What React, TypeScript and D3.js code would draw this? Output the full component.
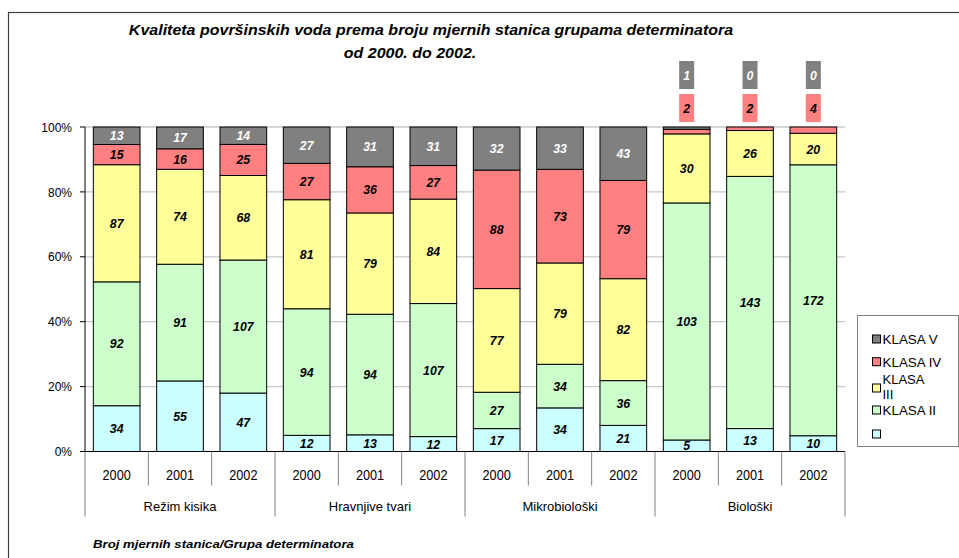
import React, { Component } from 'react';
import * as d3 from "d3";

// chart data
const groups = ["Režim kisika", "Hravnjive tvari", "Mikrobiološki", "Biološki"];
const years = ["2000", "2001", "2002"];
const classColors = ["#CCFFFF", "#CCFFCC", "#FFFF99", "#FF8080", "#808080"];

// counts per bar (group x year), order KLASA I .. KLASA V
const klasaI = [34, 55, 47, 12, 13, 12, 17, 34, 21, 5, 13, 10];
const klasaII = [92, 91, 107, 94, 94, 107, 27, 34, 36, 103, 143, 172];
const klasaIII = [87, 74, 68, 81, 79, 84, 77, 79, 82, 30, 26, 20];
const klasaIV = [15, 16, 25, 27, 36, 27, 88, 73, 79, 2, 2, 4];
const klasaV = [13, 17, 14, 27, 31, 31, 32, 33, 43, 1, 0, 0];
const yTicks = [0, 0.2, 0.4, 0.6, 0.8, 1];

const title1 = "Kvaliteta površinskih voda prema broju mjernih stanica grupama determinatora";
const title2 = "od 2000. do 2002.";
const axisTitle = "Broj mjernih stanica/Grupa determinatora";

// text placed with its own vertical stretch (the source rendering is not square)
function addText(g: any, x: number, y: number, str: any, fs: number, sy: number, anchor = "start") {
    return g.append("text")
        .attr("transform", "translate(" + x + "," + y + ") scale(1," + sy + ")")
        .attr("font-size", fs)
        .attr("text-anchor", anchor)
        .text(str);
}

export default class App extends Component {
    myRef: any;

    constructor(props: any) {
        super(props)
        this.myRef = React.createRef()
    }

    componentDidMount() {
        document.body.style.margin = "0";
        const el = this.myRef.current;
        el.innerHTML = "";

        const width = 959, height = 558
        const font = "Arial, 'Liberation Sans', sans-serif"
        const plot = { left: 85, right: 845, top: 127, bottom: 451.5 }

        const svg = d3.select(el)
            .append("svg")
            .attr("width", width)
            .attr("height", height)
            .style("display", "block")
            .style("font-family", font);

        svg.append("rect").attr("width", width).attr("height", height).attr("fill", "#fff");

        // outer chart frame
        svg.append("rect")
            .attr("x", 8.5).attr("y", 12.5)
            .attr("width", width + 20).attr("height", height + 20)
            .attr("fill", "none").attr("stroke", "#404040").attr("stroke-width", 1.2);

        const series = [klasaI, klasaII, klasaIII, klasaIV, klasaV];
        const cats: any[] = [];
        groups.forEach((g, gi) => years.forEach((yr, yi) => {
            const idx = gi * 3 + yi;
            const vals = series.map(s => s[idx]);
            cats.push({ key: g + "|" + yr, group: g, year: yr, vals, total: d3.sum(vals) });
        }));

        const x = d3.scaleBand()
            .domain(cats.map(d => d.key))
            .range([plot.left, plot.right])
            .paddingInner(0.263)
            .paddingOuter(0.1315)

        const step = x.step()

        const y = d3.scaleLinear()
            .domain([0, 1])
            .range([plot.bottom, plot.top])

        // grid
        svg.append("g").selectAll("line")
            .data(yTicks.slice(1))
            .join("line")
            .attr("x1", plot.left).attr("x2", plot.right)
            .attr("y1", d => y(d)).attr("y2", d => y(d))
            .attr("stroke", "#C8C8C8").attr("stroke-width", 1.3);

        // y axis
        svg.append("line")
            .attr("x1", plot.left).attr("x2", plot.left)
            .attr("y1", plot.top).attr("y2", plot.bottom)
            .attr("stroke", "#000");
        const yAx = svg.append("g");
        yAx.selectAll("line").data(yTicks).join("line")
            .attr("x1", plot.left - 5).attr("x2", plot.left)
            .attr("y1", d => y(d)).attr("y2", d => y(d))
            .attr("stroke", "#000");
        yTicks.forEach(t => {
            addText(yAx, plot.left - 13, y(t) + 4.6, d3.format(".0%")(t), 12, 1.08, "end");
        });

        // stacked bars
        const stackData = cats.map(c => {
            let acc = 0;
            return c.vals.map((v: number, i: number) => {
                const y0 = acc / c.total;
                acc += v;
                return { cat: c, i, v, y0, y1: acc / c.total };
            });
        });

        const barG = svg.append("g");
        stackData.forEach(segs => {
            barG.selectAll(null).data(segs).enter().append("rect")
                .attr("x", d => x(d.cat.key))
                .attr("width", x.bandwidth())
                .attr("y", d => y(d.y1))
                .attr("height", d => y(d.y0) - y(d.y1))
                .attr("fill", d => classColors[d.i])
                .attr("stroke", "#000").attr("stroke-width", 1);
        });

        // value labels
        const labG = svg.append("g")
            .attr("font-weight", "bold").attr("font-style", "italic");
        stackData.forEach(segs => {
            segs.forEach(d => {
                const cx = x(d.cat.key) + x.bandwidth() / 2;
                const small = d.cat.group === "Biološki" && d.i >= 3;
                let cy = (y(d.y0) + y(d.y1)) / 2;
                if (small) {
                    // labels of the thin top segments are set above the plot
                    cy = d.i === 3 ? y(1) - 19 : y(1) - 52;
                    labG.append("rect")
                        .attr("x", cx - 7.5).attr("y", cy - 14)
                        .attr("width", 15).attr("height", 28)
                        .attr("fill", classColors[d.i]);
                }
                addText(labG, cx, cy + 4.5, d.v, 12.3, 1, "middle")
                    .attr("fill", d.i === 4 ? "#fff" : "#000");
            });
        });

        // x axis
        svg.append("line")
            .attr("x1", plot.left).attr("x2", plot.right)
            .attr("y1", plot.bottom).attr("y2", plot.bottom)
            .attr("stroke", "#000");
        const xAx = svg.append("g");
        cats.forEach((c, i) => {
            const left = x(c.key) - step * 0.1315;
            const isGroupStart = i % 3 === 0;
            xAx.append("line")
                .attr("x1", left).attr("x2", left)
                .attr("y1", plot.bottom).attr("y2", isGroupStart ? plot.bottom + 65 : plot.bottom + 34)
                .attr("stroke", "#808080");
            addText(xAx, left + step / 2, plot.bottom + 28.5, c.year, 12.7, 1.12, "middle");
        });
        xAx.append("line")
            .attr("x1", plot.right).attr("x2", plot.right)
            .attr("y1", plot.bottom).attr("y2", plot.bottom + 65)
            .attr("stroke", "#808080");
        groups.forEach((g, gi) => {
            addText(xAx, plot.left + step * (gi * 3 + 1.5), plot.bottom + 59.5, g, 13, 1.05, "middle");
        });

        // titles
        const tg = svg.append("g").attr("font-weight", "bold").attr("font-style", "italic");
        addText(tg, 431, 34.5, title1, 16, 0.88, "middle");
        addText(tg, 410, 57.5, title2, 16, 0.88, "middle");
        addText(tg, 93, 548.3, axisTitle, 13.2, 0.88);

        // legend
        const lg = svg.append("g");
        lg.append("rect")
            .attr("x", 857.5).attr("y", 315.5)
            .attr("width", 101).attr("height", 131)
            .attr("fill", "#fff").attr("stroke", "#808080");
        const legendRows = [
            { i: 4, lines: ["KLASA V"], cy: 339 },
            { i: 3, lines: ["KLASA IV"], cy: 361.7 },
            { i: 2, lines: ["KLASA", "III"], cy: 388 },
            { i: 1, lines: ["KLASA II"], cy: 410 },
            { i: 0, lines: [] as string[], cy: 434 },
        ];
        legendRows.forEach(r => {
            lg.append("rect")
                .attr("x", 872.5).attr("y", r.cy - 4)
                .attr("width", 8).attr("height", 8)
                .attr("fill", classColors[r.i]).attr("stroke", "#000");
            if (r.lines.length === 1) {
                addText(lg, 882.5, r.cy + 5, r.lines[0], 13.4, 1);
            } else if (r.lines.length === 2) {
                addText(lg, 882.5, 384, r.lines[0], 13, 1);
                addText(lg, 882.5, 399, r.lines[1], 13, 1);
            }
        });
    }

    render() {
        return (
            <div ref={this.myRef} className="StackedChart"></div>
        )
    }
}
